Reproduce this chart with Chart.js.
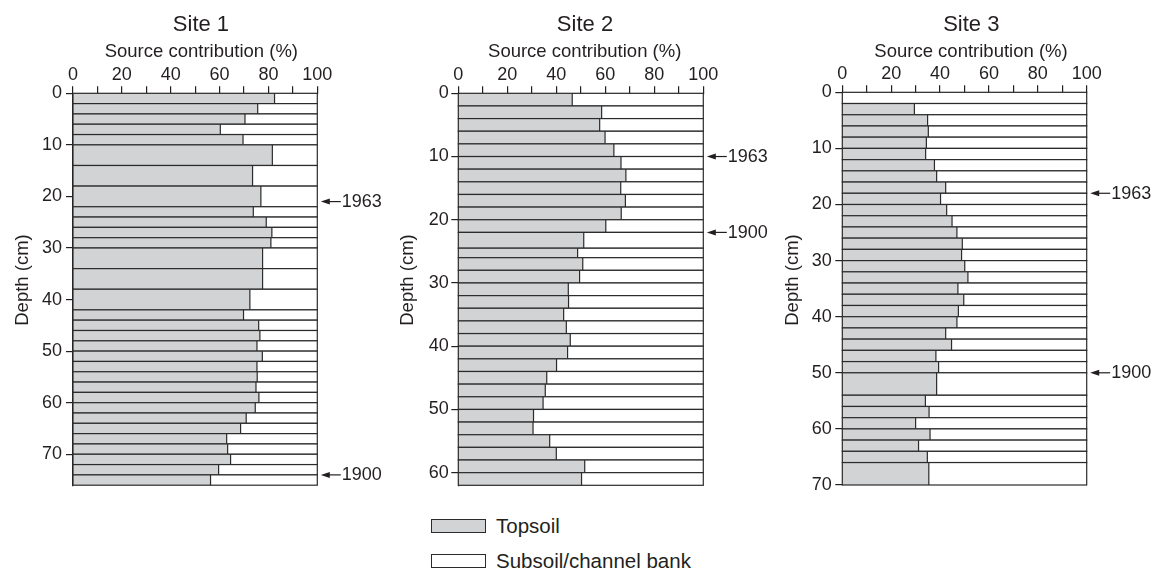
<!DOCTYPE html>
<html>
<head>
<meta charset="utf-8">
<title>Source contribution by depth</title>
<script src="https://cdn.jsdelivr.net/npm/chart.js@4.4.1/dist/chart.umd.min.js"></script>
<style>
  html, body { margin: 0; padding: 0; background: #fff; overflow: hidden; }
  #wrap { position: relative; width: 1152px; height: 570px; overflow: hidden;
          font-family: 'Liberation Sans', Arial, sans-serif; color: #231f20; }
  #wrap canvas { position: absolute; top: 0; }
  .key { position: absolute; left: 431px; height: 24px; display: flex; align-items: center;
         font-size: 20.5px; white-space: nowrap; }
  .swatch { box-sizing: border-box; width: 55px; height: 14px; border: 1.3px solid #2b2b2b;
            margin-right: 10px; }
</style>
</head>
<body>
<div id="wrap">
  <canvas id="site1"></canvas>
  <canvas id="site2"></canvas>
  <canvas id="site3"></canvas>
  <div class="key" style="top:514px"><span class="swatch" style="background:#d2d3d5"></span>Topsoil</div>
  <div class="key" style="top:549px"><span class="swatch" style="background:#fff"></span>Subsoil/channel bank</div>
</div>
<script>
// depth boundaries (cm) of each sampled slice, and topsoil share (%) for each slice
const site1Depths = [0, 2, 4, 6, 8, 10, 14, 18, 22, 24, 26, 28, 30, 34, 38, 42, 44, 46, 48, 50,
  52, 54, 56, 58, 60, 62, 64, 66, 68, 70, 72, 74, 76];
const site1Topsoil = [82.5, 75.6, 70.4, 60.3, 69.6, 81.6, 73.5, 76.9, 73.8, 79.1, 81.4, 81.0,
  77.6, 77.6, 72.4, 69.8, 76.0, 76.5, 75.3, 77.5, 75.3, 75.4, 74.9, 76.1, 74.6, 70.9, 68.6,
  62.9, 63.3, 64.5, 59.6, 56.3];

const site2Depths = [0, 2, 4, 6, 8, 10, 12, 14, 16, 18, 20, 22, 24.5, 26, 28, 30, 32, 34, 36,
  38, 40, 42, 44, 46, 48, 50, 52, 54, 56, 58, 60, 62];
const site2Topsoil = [46.5, 58.5, 57.7, 59.9, 63.5, 66.4, 68.4, 66.3, 68.2, 66.5, 60.2, 51.2,
  48.7, 50.8, 49.5, 44.9, 45.0, 43.0, 44.1, 45.7, 44.6, 40.1, 36.1, 35.5, 34.6, 30.7, 30.5,
  37.3, 40.0, 51.6, 50.3];

const site3Depths = [0, 2, 4, 6, 8, 10, 12, 14, 16, 18, 20, 22, 24, 26, 28, 30, 32, 34, 36, 38,
  40, 42, 44, 46, 48, 50, 54, 56, 58, 60, 62, 64, 66, 70];
const site3Topsoil = [0, 29.5, 34.9, 35.2, 34.4, 34.1, 37.7, 38.6, 42.3, 40.2, 42.7, 44.9, 46.9,
  49.1, 48.8, 50.1, 51.4, 47.3, 49.7, 47.5, 46.9, 42.3, 44.7, 38.3, 39.4, 38.6, 34.0, 35.5,
  30.0, 35.9, 31.2, 34.8, 35.4];

// dated horizons (depth in cm)
const site1Dates = [{ depth: 21, year: '1963' }, { depth: 74, year: '1900' }];
const site2Dates = [{ depth: 10, year: '1963' }, { depth: 22, year: '1900' }];
const site3Dates = [{ depth: 18, year: '1963' }, { depth: 50, year: '1900' }];

const xTicks = [0, 20, 40, 60, 80, 100];

const ink = '#231f20';
const gray = '#d2d3d5';
const fontFamily = "'Liberation Sans', Arial, sans-serif";

Chart.defaults.font.family = fontFamily;
Chart.defaults.color = ink;

// draws each slice as a topsoil / subsoil split bar, the dating arrows and the panel texts
const depthBars = {
  id: 'depthBars',
  afterDatasetsDraw(chart, args, opts) {
    const { ctx, chartArea, scales: { x, y } } = chart;
    const x0 = x.getPixelForValue(0);
    const x1 = x.getPixelForValue(100);
    ctx.save();
    ctx.lineWidth = 1.2;
    ctx.strokeStyle = '#2b2b2b';
    opts.topsoil.forEach((v, i) => {
      const yA = y.getPixelForValue(opts.depths[i]);
      const yB = y.getPixelForValue(opts.depths[i + 1]);
      const xv = x.getPixelForValue(v);
      ctx.fillStyle = '#fff';
      ctx.fillRect(x0, yA, x1 - x0, yB - yA);
      ctx.fillStyle = gray;
      ctx.fillRect(x0, yA, xv - x0, yB - yA);
      ctx.strokeRect(x0, yA, x1 - x0, yB - yA);
      if (v > 0) {
        ctx.beginPath();
        ctx.moveTo(xv, yA);
        ctx.lineTo(xv, yB);
        ctx.stroke();
      }
    });

    // arrows pointing at the dated depths
    ctx.fillStyle = ink;
    ctx.strokeStyle = ink;
    ctx.font = '18px ' + fontFamily;
    ctx.textBaseline = 'middle';
    opts.dates.forEach(d => {
      const py = y.getPixelForValue(d.depth);
      const tip = x1 + 3.5;
      ctx.beginPath();
      ctx.moveTo(tip + 6, py);
      ctx.lineTo(tip + 20, py);
      ctx.lineWidth = 1.2;
      ctx.stroke();
      ctx.beginPath();
      ctx.moveTo(tip, py);
      ctx.lineTo(tip + 9, py - 3);
      ctx.lineTo(tip + 9, py + 3);
      ctx.closePath();
      ctx.fill();
      ctx.fillText(d.year, tip + 21, py + 0.5);
    });

    // panel title, axis titles
    const mid = (chartArea.left + chartArea.right) / 2;
    ctx.textAlign = 'center';
    ctx.font = '22px ' + fontFamily;
    ctx.fillText(opts.title, mid + opts.titleDx, 24.5);
    ctx.font = '18.5px ' + fontFamily;
    ctx.fillText('Source contribution (%)', mid + opts.xTitleDx, 51.5);
    ctx.translate(opts.yTitleX, 280);
    ctx.rotate(-Math.PI / 2);
    ctx.fillText('Depth (cm)', 0, 0);
    ctx.restore();
  }
};

function makePanel(id, title, depths, topsoil, dates, layout) {
  const canvas = document.getElementById(id);
  canvas.width = layout.width;
  canvas.height = 500;
  canvas.style.left = layout.left + 'px';
  canvas.style.width = layout.width + 'px';
  canvas.style.height = '500px';

  const depthMax = depths[depths.length - 1];

  return new Chart(canvas, {
    type: 'scatter',
    data: { datasets: [] },
    plugins: [depthBars],
    options: {
      responsive: false,
      animation: false,
      devicePixelRatio: 1,
      layout: { padding: { left: 0, right: layout.right, top: layout.top, bottom: layout.bottom } },
      plugins: {
        legend: { display: false },
        tooltip: { enabled: false },
        title: { display: false },
        depthBars: {
          depths: depths, topsoil: topsoil, dates: dates, title: title,
          titleDx: layout.titleDx, xTitleDx: layout.xTitleDx, yTitleX: layout.yTitleX
        }
      },
      scales: {
        x: {
          type: 'linear',
          position: 'top',
          min: 0,
          max: 100,
          afterFit: s => { s.height = 30; },
          ticks: {
            stepSize: 10,
            autoSkip: false,
            maxRotation: 0,
            padding: 0,
            color: ink,
            font: { size: 18 },
            callback: v => (xTicks.includes(v) ? v : '')
          },
          grid: { drawOnChartArea: false, drawTicks: true, tickLength: 7, color: ink, lineWidth: 1.2 },
          border: { display: true, color: ink, width: 1.2 }
        },
        y: {
          type: 'linear',
          reverse: true,
          min: 0,
          max: depthMax,
          afterFit: s => { s.width = layout.yAxisWidth; },
          ticks: {
            stepSize: 10,
            includeBounds: false,
            padding: layout.yTickPad,
            color: ink,
            font: { size: 18 }
          },
          grid: { drawOnChartArea: false, drawTicks: true, tickLength: 7, color: ink, lineWidth: 1.2 },
          border: { display: true, color: ink, width: 1.2 }
        }
      }
    }
  });
}

makePanel('site1', 'Site 1', site1Depths, site1Topsoil, site1Dates,
  { left: 0, width: 402, right: 84.7, top: 63.3, bottom: 14.7, yAxisWidth: 73, yTickPad: 4,
    titleDx: 5.8, xTitleDx: 6.2, yTitleX: 23 });
makePanel('site2', 'Site 2', site2Depths, site2Topsoil, site2Dates,
  { left: 384, width: 402, right: 82.7, top: 63.3, bottom: 14.7, yAxisWidth: 74.3, yTickPad: 2.5,
    titleDx: 4.2, xTitleDx: 3.9, yTitleX: 24.3 });
makePanel('site3', 'Site 3', site3Depths, site3Topsoil, site3Dates,
  { left: 768, width: 407, right: 88.3, top: 62.3, bottom: 15, yAxisWidth: 74.3, yTickPad: 3.6,
    titleDx: 6.8, xTitleDx: 6.5, yTitleX: 24.7 });
</script>
</body>
</html>
